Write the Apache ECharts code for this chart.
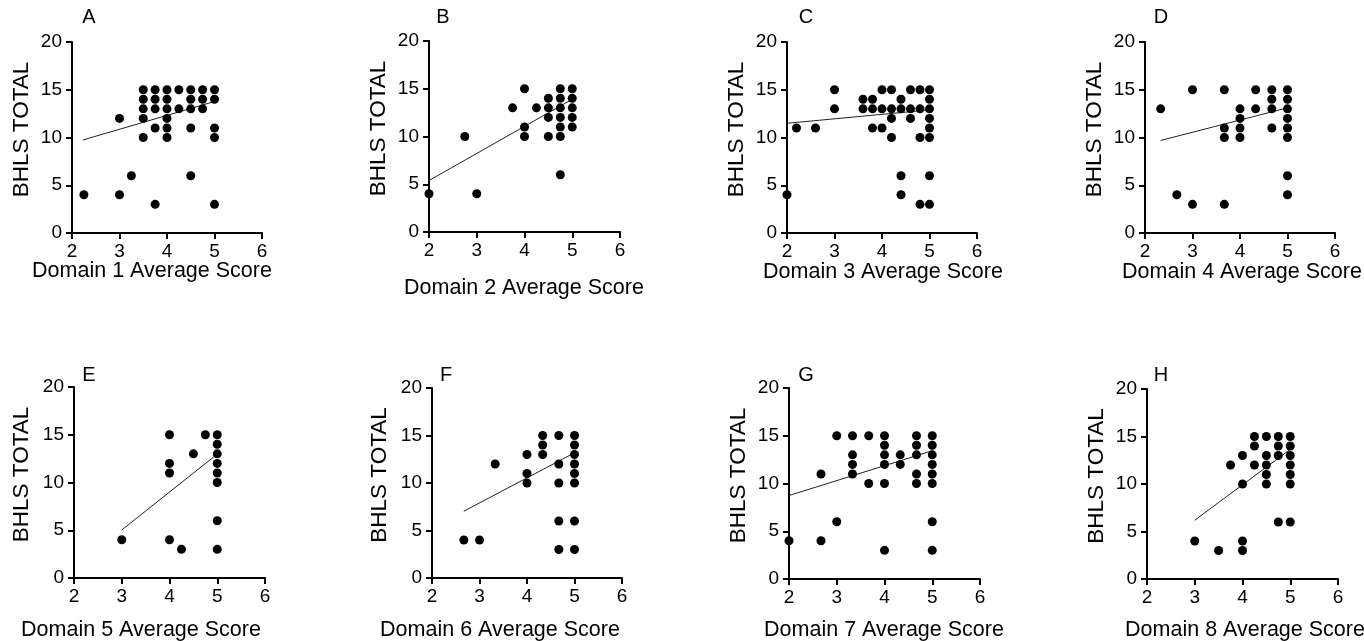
<!DOCTYPE html>
<html>
<head>
<meta charset="utf-8">
<script src="https://cdn.jsdelivr.net/npm/echarts@6/dist/echarts.min.js"></script>
<style>html,body{margin:0;padding:0;background:#fff}#c{width:1364px;height:641px}</style>
</head>
<body>
<div id="c"></div>
<script>
// ---- Data (x = domain average score, y = BHLS total) ----
var panelLetters = ['A','B','C','D','E','F','G','H'];
var xNames = ['Domain 1 Average Score','Domain 2 Average Score','Domain 3 Average Score','Domain 4 Average Score',
              'Domain 5 Average Score','Domain 6 Average Score','Domain 7 Average Score','Domain 8 Average Score'];
var yName = 'BHLS TOTAL';
var xTicks = [2,3,4,5,6];
var yTicks = [0,5,10,15,20];

var domain1 = [[2.25,4],[3,12],[3,4],[3.25,6],
  [3.5,15],[3.5,14],[3.5,13],[3.5,12],[3.5,10],
  [3.75,15],[3.75,14],[3.75,13],[3.75,11],[3.75,3],
  [4,15],[4,14],[4,13],[4,12],[4,11],[4,10],
  [4.25,15],[4.25,13],
  [4.5,15],[4.5,14],[4.5,13],[4.5,11],[4.5,6],
  [4.75,15],[4.75,14],[4.75,13],
  [5,15],[5,14],[5,11],[5,10],[5,3]];
var domain2 = [[2,4],[2.75,10],[3,4],[3.75,13],
  [4,15],[4,11],[4,10],[4.25,13],
  [4.5,14],[4.5,13],[4.5,12],[4.5,10],
  [4.75,15],[4.75,14],[4.75,13],[4.75,12],[4.75,11],[4.75,10],[4.75,6],
  [5,15],[5,14],[5,13],[5,12],[5,11]];
var domain3 = [[2,4],[2.2,11],[2.6,11],[3,15],[3,13],
  [3.6,14],[3.6,13],[3.8,14],[3.8,13],[3.8,11],
  [4,15],[4,13],[4,11],
  [4.2,15],[4.2,13],[4.2,12],[4.2,10],
  [4.4,14],[4.4,13],[4.4,6],[4.4,4],
  [4.6,15],[4.6,13],[4.6,12],
  [4.8,15],[4.8,13],[4.8,10],[4.8,3],
  [5,15],[5,14],[5,13],[5,12],[5,11],[5,10],[5,6],[5,3]];
var domain4 = [[2.33,13],[2.67,4],[3,15],[3,3],
  [3.67,15],[3.67,11],[3.67,10],[3.67,3],
  [4,13],[4,12],[4,11],[4,10],
  [4.33,15],[4.33,13],
  [4.67,15],[4.67,14],[4.67,13],[4.67,11],
  [5,15],[5,14],[5,13],[5,12],[5,11],[5,10],[5,6],[5,4]];
var domain5 = [[3,4],[4,15],[4,12],[4,11],[4,4],[4.25,3],[4.5,13],[4.75,15],
  [5,15],[5,14],[5,13],[5,12],[5,11],[5,10],[5,6],[5,3]];
var domain6 = [[2.67,4],[3,4],[3.33,12],
  [4,13],[4,11],[4,10],
  [4.33,15],[4.33,14],[4.33,13],
  [4.67,15],[4.67,12],[4.67,10],[4.67,6],[4.67,3],
  [5,15],[5,14],[5,13],[5,12],[5,11],[5,10],[5,6],[5,3]];
var domain7 = [[2,4],[2.67,11],[2.67,4],[3,15],[3,6],
  [3.33,15],[3.33,13],[3.33,12],[3.33,11],
  [3.67,15],[3.67,10],
  [4,15],[4,14],[4,13],[4,12],[4,10],[4,3],
  [4.33,13],[4.33,12],
  [4.67,15],[4.67,14],[4.67,13],[4.67,11],[4.67,10],
  [5,15],[5,14],[5,13],[5,12],[5,11],[5,10],[5,6],[5,3]];
var domain8 = [[3,4],[3.5,3],[3.75,12],
  [4,13],[4,10],[4,4],[4,3],
  [4.25,15],[4.25,14],[4.25,12],
  [4.5,15],[4.5,13],[4.5,12],[4.5,11],[4.5,10],
  [4.75,15],[4.75,14],[4.75,13],[4.75,6],
  [5,15],[5,14],[5,13],[5,12],[5,11],[5,10],[5,6]];

// regression line end points
var fit1 = [[2.23,9.74],[5,13.77]];
var fit2 = [[2,5.39],[4.94,13.73]];
var fit3 = [[2,11.49],[5,12.89]];
var fit4 = [[2.33,9.69],[5,13.11]];
var fit5 = [[3,5.03],[5,12.97]];
var fit6 = [[2.67,7.03],[5,13.18]];
var fit7 = [[2,8.74],[5,13.43]];
var fit8 = [[3,6.19],[5,13.64]];

var allData = [domain1,domain2,domain3,domain4,domain5,domain6,domain7,domain8];
var allFits = [fit1,fit2,fit3,fit4,fit5,fit6,fit7,fit8];

// ---- Layout ----
var grids = [
  {left:72, top:42, width:190, height:191},
  {left:429, top:41, width:191, height:191},
  {left:787, top:42, width:190, height:191},
  {left:1145, top:42, width:190, height:191},
  {left:74, top:387, width:191, height:191},
  {left:432, top:388, width:190, height:190},
  {left:789, top:388, width:191, height:191},
  {left:1147, top:389, width:191, height:190}
];
var letterPos = [[89,17],[443,17],[806,17],[1161,17],[89,375],[446,375],[806,375],[1161,375]];
var namePos = [[152,271],[524,288],[883,272],[1242,272],[141,630],[500,630],[884,630],[1245,630]];
var yNameX = [22,379,737,1095,22,380,739,1097];

var FONT = '"Liberation Sans", Arial, sans-serif';
var option = {animation:false, backgroundColor:'#fff', grid:[], xAxis:[], yAxis:[], series:[], graphic:[]};
for (var i=0;i<8;i++){
  var g = grids[i];
  option.grid.push({left:g.left, top:g.top, width:g.width, height:g.height, containLabel:false});
  option.xAxis.push({type:'value', gridIndex:i, min:xTicks[0], max:xTicks[xTicks.length-1], interval:1,
    axisLine:{show:true, onZero:false, lineStyle:{color:'#000', width:2}},
    axisTick:{show:true, length:6, lineStyle:{color:'#000', width:2}},
    axisLabel:{color:'#000', fontSize:19, fontFamily:FONT, margin:9},
    splitLine:{show:false}});
  option.yAxis.push({type:'value', gridIndex:i, min:yTicks[0], max:yTicks[yTicks.length-1], interval:5,
    axisLine:{show:true, onZero:false, lineStyle:{color:'#000', width:2}},
    axisTick:{show:true, length:6, lineStyle:{color:'#000', width:2}},
    axisLabel:{color:'#000', fontSize:19, fontFamily:FONT, margin:10},
    splitLine:{show:false}});
  option.series.push({type:'scatter', xAxisIndex:i, yAxisIndex:i, data:allData[i], symbolSize:9,
    itemStyle:{color:'#000', opacity:1}, z:3});
  option.series.push({type:'line', xAxisIndex:i, yAxisIndex:i, data:allFits[i], symbol:'none',
    lineStyle:{color:'#222', width:1}, z:2});
  option.graphic.push({type:'text', x:letterPos[i][0], y:letterPos[i][1],
    style:{text:panelLetters[i], font:'20px '+FONT, fill:'#000', textAlign:'center', textVerticalAlign:'middle', align:'center', verticalAlign:'middle'}});
  option.graphic.push({type:'text', x:namePos[i][0], y:namePos[i][1],
    style:{text:xNames[i], font:'21.5px '+FONT, fill:'#000', textAlign:'center', textVerticalAlign:'middle', align:'center', verticalAlign:'middle'}});
  option.graphic.push({type:'text', x:yNameX[i], y:g.top + g.height/2 - 8, rotation:Math.PI/2,
    style:{text:yName, font:'22.5px '+FONT, fill:'#000', textAlign:'center', textVerticalAlign:'middle', align:'center', verticalAlign:'middle'}});
}
var chart = echarts.init(document.getElementById('c'), null, {renderer:'canvas'});
chart.setOption(option);
</script>
</body>
</html>
